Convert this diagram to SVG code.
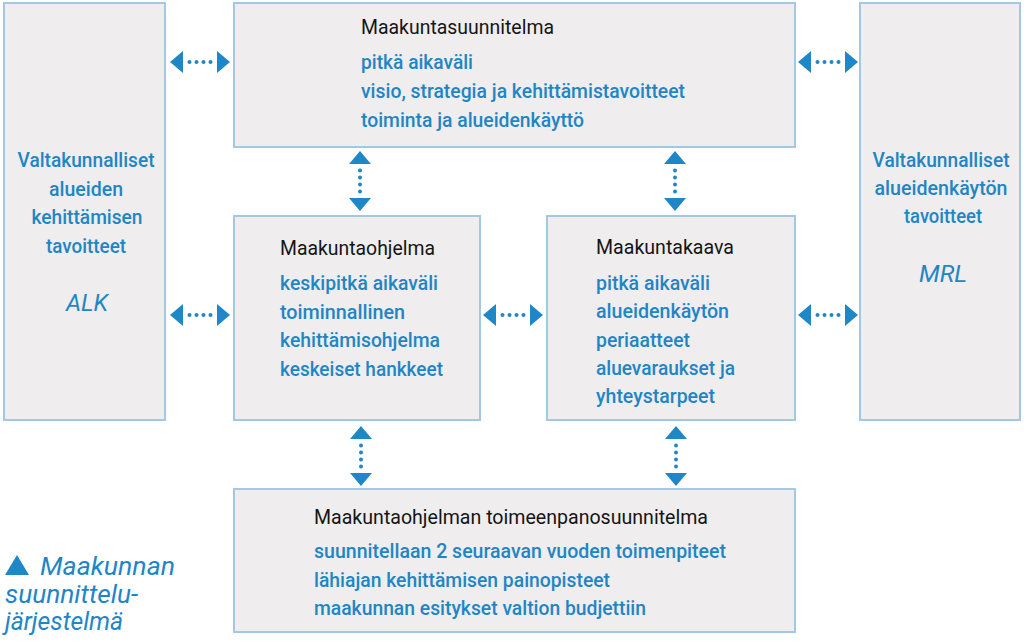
<svg xmlns="http://www.w3.org/2000/svg" width="1024" height="641" viewBox="0 0 1024 641">
<style>
.box{fill:#efedee;stroke:#a3c9e2;stroke-width:2}
.t{font-family:Roboto,"Liberation Sans",sans-serif;font-size:20px;font-weight:500;fill:#1e86c5}
.h{font-family:Roboto,"Liberation Sans",sans-serif;font-size:20px;fill:#151515}
.i{font-family:Roboto,"Liberation Sans",sans-serif;font-style:italic;fill:#1e86c5}
.c{text-anchor:middle}
.arr{fill:#1f87c8}
</style>
<defs>
<g id="arrow" class="arr">
<polygon points="-30,0 -17,-11 -17,11"/>
<polygon points="30,0 17,-11 17,11"/>
<circle cx="-10.5" cy="0" r="2"/>
<circle cx="-3.5" cy="0" r="2"/>
<circle cx="3.5" cy="0" r="2"/>
<circle cx="10.5" cy="0" r="2"/>
</g>
</defs>
<rect width="1024" height="641" fill="#ffffff"/>

<g id="alk">
<rect class="box" x="4" y="3" width="161" height="417"/>
<text class="t c" x="86" y="167" textLength="137" lengthAdjust="spacingAndGlyphs">Valtakunnalliset</text>
<text class="t c" x="86" y="196" textLength="74" lengthAdjust="spacingAndGlyphs">alueiden</text>
<text class="t c" x="87" y="224" textLength="111" lengthAdjust="spacingAndGlyphs">kehittämisen</text>
<text class="t c" x="86" y="253" textLength="80" lengthAdjust="spacingAndGlyphs">tavoitteet</text>
<text class="i c" x="87" y="311" font-size="23" textLength="42" lengthAdjust="spacingAndGlyphs">ALK</text>
</g>

<g id="mrl">
<rect class="box" x="860" y="3" width="160" height="417"/>
<text class="t c" x="941" y="167" textLength="137" lengthAdjust="spacingAndGlyphs">Valtakunnalliset</text>
<text class="t c" x="941" y="195" textLength="133" lengthAdjust="spacingAndGlyphs">alueidenkäytön</text>
<text class="t c" x="943" y="223" textLength="78" lengthAdjust="spacingAndGlyphs">tavoitteet</text>
<text class="i c" x="943" y="282" font-size="23" textLength="48" lengthAdjust="spacingAndGlyphs">MRL</text>
</g>

<g id="maakuntasuunnitelma">
<rect class="box" x="234" y="3" width="561" height="144"/>
<text class="h" x="361" y="34" textLength="193" lengthAdjust="spacingAndGlyphs">Maakuntasuunnitelma</text>
<text class="t" x="361" y="69" textLength="112" lengthAdjust="spacingAndGlyphs">pitkä aikaväli</text>
<text class="t" x="361" y="98" textLength="324" lengthAdjust="spacingAndGlyphs">visio, strategia ja kehittämistavoitteet</text>
<text class="t" x="361" y="127" textLength="223" lengthAdjust="spacingAndGlyphs">toiminta ja alueidenkäyttö</text>
</g>

<g id="maakuntaohjelma">
<rect class="box" x="234" y="216" width="246" height="204"/>
<text class="h" x="280" y="255" textLength="155" lengthAdjust="spacingAndGlyphs">Maakuntaohjelma</text>
<text class="t" x="280" y="290" textLength="158" lengthAdjust="spacingAndGlyphs">keskipitkä aikaväli</text>
<text class="t" x="280" y="319" textLength="125" lengthAdjust="spacingAndGlyphs">toiminnallinen</text>
<text class="t" x="280" y="347" textLength="160" lengthAdjust="spacingAndGlyphs">kehittämisohjelma</text>
<text class="t" x="280" y="376" textLength="163" lengthAdjust="spacingAndGlyphs">keskeiset hankkeet</text>
</g>

<g id="maakuntakaava">
<rect class="box" x="547" y="216" width="248" height="204"/>
<text class="h" x="596" y="254" textLength="138" lengthAdjust="spacingAndGlyphs">Maakuntakaava</text>
<text class="t" x="596" y="290" textLength="114" lengthAdjust="spacingAndGlyphs">pitkä aikaväli</text>
<text class="t" x="596" y="318" textLength="133" lengthAdjust="spacingAndGlyphs">alueidenkäytön</text>
<text class="t" x="596" y="347" textLength="94" lengthAdjust="spacingAndGlyphs">periaatteet</text>
<text class="t" x="596" y="375" textLength="139" lengthAdjust="spacingAndGlyphs">aluevaraukset ja</text>
<text class="t" x="596" y="403" textLength="119" lengthAdjust="spacingAndGlyphs">yhteystarpeet</text>
</g>

<g id="toimeenpanosuunnitelma">
<rect class="box" x="234" y="489" width="561" height="143"/>
<text class="h" x="314" y="524" textLength="394" lengthAdjust="spacingAndGlyphs">Maakuntaohjelman toimeenpanosuunnitelma</text>
<text class="t" x="314" y="558" textLength="412" lengthAdjust="spacingAndGlyphs">suunnitellaan 2 seuraavan vuoden toimenpiteet</text>
<text class="t" x="314" y="587" textLength="296" lengthAdjust="spacingAndGlyphs">lähiajan kehittämisen painopisteet</text>
<text class="t" x="314" y="615" textLength="332" lengthAdjust="spacingAndGlyphs">maakunnan esitykset valtion budjettiin</text>
</g>

<g id="legend">
<polygon class="arr" points="5,575 29,575 17,555"/>
<text class="i" x="40" y="575" font-size="25" textLength="135" lengthAdjust="spacingAndGlyphs">Maakunnan</text>
<text class="i" x="5" y="603" font-size="25" textLength="133" lengthAdjust="spacingAndGlyphs">suunnittelu-</text>
<text class="i" x="5" y="630" font-size="25" textLength="118" lengthAdjust="spacingAndGlyphs">järjestelmä</text>
</g>

<g id="connectors">
<use href="#arrow" transform="translate(200,62)"/>
<use href="#arrow" transform="translate(828,62)"/>
<use href="#arrow" transform="translate(200,315)"/>
<use href="#arrow" transform="translate(513,315)"/>
<use href="#arrow" transform="translate(828,315)"/>
<use href="#arrow" transform="translate(360,181) rotate(90)"/>
<use href="#arrow" transform="translate(675,181) rotate(90)"/>
<use href="#arrow" transform="translate(361,456) rotate(90)"/>
<use href="#arrow" transform="translate(676,456) rotate(90)"/>
</g>
</svg>
